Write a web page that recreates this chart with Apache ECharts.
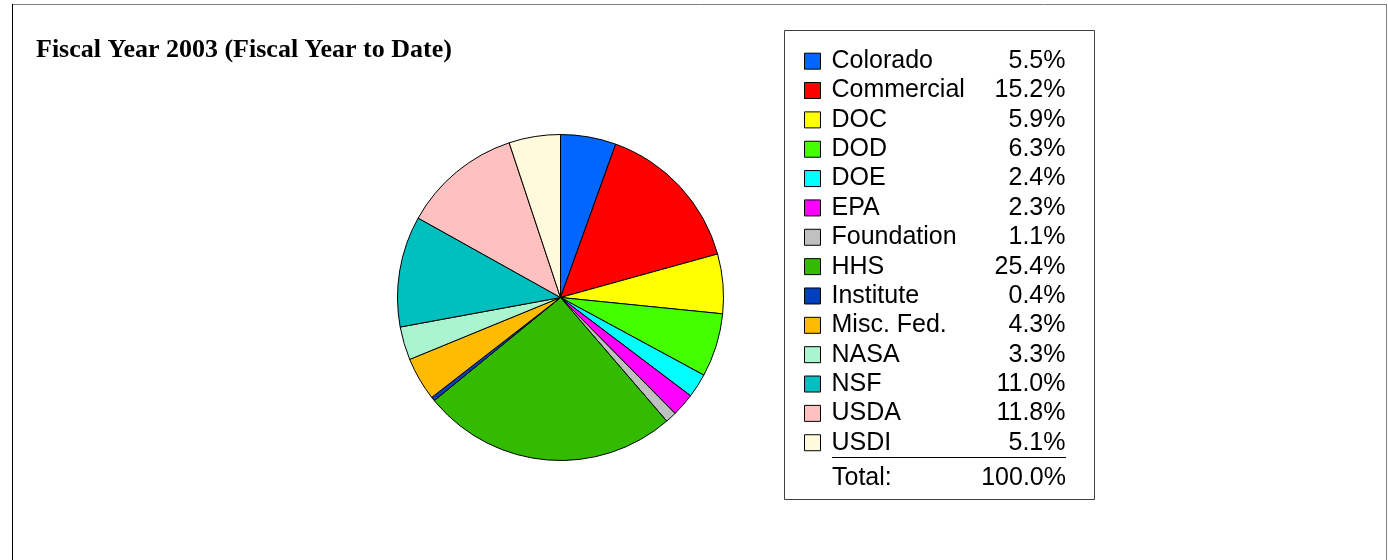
<!DOCTYPE html>
<html>
<head>
<meta charset="utf-8">
<script src="https://cdn.jsdelivr.net/npm/echarts@6/dist/echarts.min.js"></script>
<style>
html,body{margin:0;padding:0;background:#fff;}
#chart{width:1388px;height:560px;}
</style>
</head>
<body>
<div id="chart"></div>
<script>
var categories = ['Colorado','Commercial','DOC','DOD','DOE','EPA','Foundation','HHS','Institute','Misc. Fed.','NASA','NSF','USDA','USDI'];
var shares = [5.5, 15.2, 5.9, 6.3, 2.4, 2.3, 1.1, 25.4, 0.4, 4.3, 3.3, 11.0, 11.8, 5.1];
var colors = ['#0066ff','#ff0000','#ffff00','#44ff00','#00ffff','#ff00ff','#c0c0c0','#33bb00','#0040c0','#ffbb00','#aaf5d0','#00bfbf','#ffc0c0','#fffadc'];
var totalLabel = 'Total:';
var totalValue = '100.0%';
var titleText = 'Fiscal Year 2003 (Fiscal Year to Date)';

var chart = echarts.init(document.getElementById('chart'), null, {renderer:'canvas'});
var pctMap = {};
categories.forEach(function(c,i){ pctMap[c] = shares[i].toFixed(1) + '%'; });

var option = {
  backgroundColor:'#ffffff',
  animation:false,
  title:{
    text:titleText,
    left:31, top:32,
    textStyle:{fontFamily:'Liberation Serif', fontWeight:'bold', fontSize:26, color:'#000'}
  },
  legend:{
    orient:'vertical',
    left:799, top:41.5,
    itemWidth:16, itemHeight:16,
    itemGap:0,
    icon:'rect',
    selectedMode:false,
    data:categories,
    formatter:function(name){ return '{n|' + name + '}{p|' + pctMap[name] + '}'; },
    textStyle:{
      fontFamily:'Liberation Sans', fontSize:25, color:'#000', lineHeight:29.35,
      rich:{
        n:{fontFamily:'Liberation Sans', fontSize:25, color:'#000', width:134, padding:[0,0,0,6], lineHeight:29.35},
        p:{fontFamily:'Liberation Sans', fontSize:25, color:'#000', width:100, align:'right', lineHeight:29.35}
      }
    },
    itemStyle:{borderColor:'#000', borderWidth:1}
  },
  graphic:[
    {type:'line', shape:{x1:12.5,y1:4.5,x2:1387,y2:4.5}, style:{stroke:'#808080', lineWidth:1}},
    {type:'line', shape:{x1:12.5,y1:4,x2:12.5,y2:560}, style:{stroke:'#000', lineWidth:1}},
    {type:'line', shape:{x1:1386.5,y1:4,x2:1386.5,y2:560}, style:{stroke:'#808080', lineWidth:1}},
    {type:'rect', shape:{x:784.5,y:30.5,width:310,height:469}, style:{fill:'none', stroke:'#404040', lineWidth:1}, z:-1},
    {type:'line', shape:{x1:832,y1:457.5,x2:1066,y2:457.5}, style:{stroke:'#000', lineWidth:1}},
    {type:'text', left:832, top:466, style:{text:totalLabel, font:'25px "Liberation Sans"', fill:'#000'}},
    {type:'text', right:1388-1066, top:466, style:{text:totalValue, font:'25px "Liberation Sans"', fill:'#000', textAlign:'right'}}
  ],
  series:[{
    type:'pie',
    center:[560.5, 297.5],
    radius:[0, 163],
    startAngle:90,
    clockwise:true,
    label:{show:false},
    labelLine:{show:false},
    emphasis:{disabled:true},
    itemStyle:{borderColor:'#000', borderWidth:1},
    data:categories.map(function(c,i){ return {name:c, value:shares[i], itemStyle:{color:colors[i]}}; })
  }],
  color:colors
};
chart.setOption(option);
</script>
</body>
</html>
